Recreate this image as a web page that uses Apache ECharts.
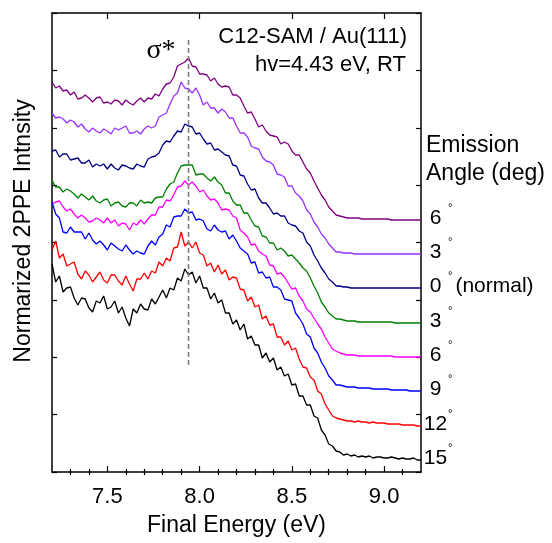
<!DOCTYPE html>
<html><head><meta charset="utf-8">
<script src="https://cdn.jsdelivr.net/npm/echarts@6/dist/echarts.min.js"></script>
<style>html,body{margin:0;padding:0;background:#fff}#c{width:552px;height:543px}</style>
</head><body><div id="c"></div>
<script>
// Final energy (eV) sample points
const energy = [7.20,7.22,7.24,7.26,7.28,7.30,7.32,7.34,7.36,7.38,
7.40,7.42,7.44,7.46,7.48,7.50,7.52,7.54,7.56,7.58,
7.60,7.62,7.64,7.66,7.68,7.70,7.72,7.74,7.76,7.78,
7.80,7.82,7.84,7.86,7.88,7.90,7.92,7.94,7.96,7.98,
8.00,8.02,8.04,8.06,8.08,8.10,8.12,8.14,8.16,8.18,
8.20,8.22,8.24,8.26,8.28,8.30,8.32,8.34,8.36,8.38,
8.40,8.42,8.44,8.46,8.48,8.50,8.52,8.54,8.56,8.58,
8.60,8.62,8.64,8.66,8.68,8.70,8.72,8.74,8.76,8.78,
8.80,8.82,8.84,8.86,8.88,8.90,8.92,8.94,8.96,8.98,
9.00,9.02,9.04,9.06,9.08,9.10,9.12,9.14,9.16,9.18,9.20];

// Normalized 2PPE intensity (offset traces, arbitrary units)
const angle6top = [390,384,386,381,382,377,380,373,374,377,
374,370,374,375,369,370,368,372,371,367,
372,369,367,371,374,370,374,373,378,376,
383,388,389,395,406,408,410,414,406,405,
398,398,397,391,394,388,385,386,385,377,
377,374,366,359,360,353,345,347,341,337,
336,335,328,330,328,321,317,317,310,303,
299,291,284,277,272,265,261,257,256,255,
254,254,254,254,253,253,253,253,253,253,
253,253,252,252,252,252,252,252,252,252,252];
const angle3top = [359,354,355,353,349,352,350,345,348,343,
340,344,341,339,343,341,338,344,342,344,
346,339,339,341,338,343,346,344,346,355,
357,359,368,376,379,390,384,383,379,384,
377,367,370,364,364,359,363,360,354,354,
346,339,339,335,326,324,323,315,311,310,
307,298,297,295,286,286,279,276,271,262,
258,250,245,238,234,228,224,220,220,219,
219,219,218,218,218,218,218,218,218,218,
218,218,218,218,218,218,218,218,218,218,218];
const angle0 = [321,322,315,318,318,312,313,314,309,309,
312,305,308,306,308,303,308,304,302,307,
306,304,303,308,306,305,313,315,316,319,
327,331,330,336,341,340,348,346,345,338,
339,333,328,329,322,323,320,317,316,307,
306,297,296,288,282,283,274,269,269,264,
258,259,256,256,249,247,246,241,239,230,
226,217,211,204,199,193,190,186,186,185,
185,184,184,184,184,184,184,184,184,184,
184,184,184,184,184,184,184,184,184,184,184];
const angle3 = [292,285,285,280,283,281,278,274,278,275,
272,276,271,269,272,273,266,269,270,266,
265,269,269,266,272,269,270,269,274,275,
275,283,288,290,299,306,307,307,307,297,
298,298,294,291,295,290,287,279,279,271,
267,267,259,259,252,246,245,236,235,229,
229,222,224,221,216,217,213,209,204,201,
194,186,179,170,165,159,156,153,153,152,
151,151,151,150,150,150,150,150,150,150,
150,150,150,149,149,149,149,149,149,149,149];
const angle6 = [268,270,271,265,261,263,258,254,257,254,
250,251,254,252,249,254,249,252,246,249,
248,242,249,247,252,248,253,257,257,265,
265,272,271,277,285,286,291,287,290,286,
280,282,276,272,273,269,262,263,262,256,
254,242,239,235,227,228,221,218,216,207,
206,198,199,195,189,183,184,176,171,163,
160,154,148,143,135,129,123,121,119,118,
117,117,117,116,116,116,116,116,116,116,
116,116,116,115,115,115,115,115,115,115,115];
const angle9 = [270,258,254,240,239,245,240,240,240,233,
239,232,228,231,227,222,229,226,223,221,
227,222,218,221,219,218,226,231,227,235,
238,247,245,255,256,256,263,259,260,252,
253,251,243,241,247,242,240,241,233,237,
231,224,221,218,209,210,199,200,194,195,
185,185,182,173,172,171,159,154,148,138,
135,124,119,110,104,96,92,87,87,86,
85,85,85,84,84,84,84,83,83,83,
83,83,82,82,82,82,82,81,81,81,81];
const angle12 = [222,231,214,218,206,208,210,198,193,201,
197,190,195,200,192,189,197,197,191,187,
196,188,181,193,193,199,193,201,199,210,
206,214,211,224,225,240,226,230,224,230,
219,217,206,209,200,207,198,202,192,195,
194,183,182,171,175,165,167,153,156,147,
148,135,135,127,131,122,124,113,105,104,
95,92,81,78,68,62,56,54,53,52,
51,51,50,51,50,50,49,50,49,49,
49,48,48,48,48,47,47,47,47,46,46];
const angle15 = [208,190,196,180,184,185,174,167,174,173,
164,160,171,169,176,163,165,171,159,165,
154,146,163,159,168,163,162,173,168,175,
182,174,184,182,194,191,203,197,200,189,
196,184,184,173,179,169,172,159,159,148,
152,142,148,133,136,127,127,114,119,110,
114,102,105,96,98,87,88,76,76,67,
67,56,54,42,37,28,26,21,20,17,
18,16,17,15,16,15,16,14,15,15,
14,14,15,14,13,14,13,13,14,12,12];

const traces = [angle6top, angle3top, angle0, angle3, angle6, angle9, angle12, angle15];
const angleLabels = ['6','3','0','3','6','9','12','15'];
const angleSuffix = ['','','(normal)','','','','',''];
const colors = ['#800080','#9933ff','#000080','#008000','#ff00ff','#0000ff','#ff0000','#000000'];

const majorTicks = [7.5, 8.0, 8.5, 9.0];
const minorTicks = [7.3,7.4,7.6,7.7,7.8,7.9,8.1,8.2,8.3,8.4,8.6,8.7,8.8,8.9,9.1];
const sigmaEnergy = 7.94;
const sigmaSpan = [107, 432];

const F = '"Liberation Sans", Arial, sans-serif';
const chart = echarts.init(document.getElementById('c'), null, {renderer:'canvas'});

const xBase = {type:'value', min:7.2, max:9.2, splitLine:{show:false}};
const axLine = {show:true, onZero:false, lineStyle:{color:'#000', width:1.5}};
const yBase = {type:'value', min:0, max:459, interval:57.375, splitLine:{show:false},
  axisLine:axLine, axisTick:{show:true, inside:true, length:5, lineStyle:{color:'#000', width:1.2}},
  axisLabel:{show:false}};

const series = traces.map((arr, k) => ({
  type:'line', xAxisIndex:0, yAxisIndex:0,
  data: energy.map((e,i)=>[e, arr[i]]),
  symbol:'none', showSymbol:false, silent:true,
  lineStyle:{color:colors[k], width:1.3}, itemStyle:{color:colors[k]},
  endLabel:{show:true, distance:4, offset:[0,-2],
    formatter: () => '{n|' + angleLabels[k] + '}{d|°}' + (angleSuffix[k] ? '{t|' + angleSuffix[k] + '}' : ''),
    rich:{
      n:{fontSize:21, width:21, align:'right', lineHeight:32, fontFamily:F, color:'#000'},
      d:{fontSize:11, verticalAlign:'top', padding:[0,3,0,2], fontFamily:F, color:'#000'},
      t:{fontSize:21, fontFamily:F, color:'#000'}
    }}
}));
series.push({
  type:'line', xAxisIndex:0, yAxisIndex:0, silent:true,
  data:[[sigmaEnergy, sigmaSpan[0]],[sigmaEnergy, sigmaSpan[1]]],
  symbol:'none', lineStyle:{color:'#7f7f7f', width:1.6, type:[5,3]}
});

chart.setOption({
  animation:false,
  backgroundColor:'#fff',
  grid:{left:52, right:131, top:13, bottom:71, containLabel:false, outerBoundsMode:'none'},
  xAxis:[
    Object.assign({}, xBase, {position:'bottom', axisLine:axLine,
      axisTick:{show:true, inside:true, length:6, customValues:majorTicks, lineStyle:{color:'#000', width:1.2}},
      axisLabel:{show:true, customValues:majorTicks, formatter:v=>v.toFixed(1), fontSize:22, color:'#000', margin:14, fontFamily:F},
      name:'Final Energy (eV)', nameLocation:'middle', nameGap:42,
      nameTextStyle:{fontSize:23, color:'#000', fontFamily:F}}),
    Object.assign({}, xBase, {position:'bottom', axisLine:{show:false},
      axisTick:{show:true, inside:true, length:3, customValues:minorTicks, lineStyle:{color:'#000', width:1.2}},
      axisLabel:{show:false}}),
    Object.assign({}, xBase, {position:'top', axisLine:axLine,
      axisTick:{show:true, inside:true, length:6, customValues:majorTicks, lineStyle:{color:'#000', width:1.2}},
      axisLabel:{show:false}}),
    Object.assign({}, xBase, {position:'top', axisLine:{show:false},
      axisTick:{show:true, inside:true, length:3, customValues:minorTicks, lineStyle:{color:'#000', width:1.2}},
      axisLabel:{show:false}})
  ],
  yAxis:[
    Object.assign({}, yBase, {position:'left'}),
    Object.assign({}, yBase, {position:'right'})
  ],
  graphic:[
    {type:'text', x:24, y:231, rotation:Math.PI/2, style:{text:'Normarized 2PPE Intnsity', font:'23px "Liberation Sans", Arial, sans-serif', fill:'#000', align:'center', verticalAlign:'middle'}},
    {type:'text', x:407, y:37, style:{text:'C12-SAM / Au(111)', font:'22px "Liberation Sans", Arial, sans-serif', fill:'#000', align:'right', verticalAlign:'middle'}},
    {type:'text', x:406, y:65, style:{text:'hv=4.43 eV, RT', font:'22px "Liberation Sans", Arial, sans-serif', fill:'#000', align:'right', verticalAlign:'middle'}},
    {type:'text', x:161, y:51, style:{text:'σ*', font:'28px "Liberation Serif", "Times New Roman", serif', fill:'#000', align:'center', verticalAlign:'middle'}},
    {type:'text', x:426, y:146, style:{text:'Emission', font:'23px "Liberation Sans", Arial, sans-serif', fill:'#000', align:'left', verticalAlign:'middle'}},
    {type:'text', x:426, y:174, style:{text:'Angle (deg)', font:'23px "Liberation Sans", Arial, sans-serif', fill:'#000', align:'left', verticalAlign:'middle'}}
  ],
  series: series
});
</script></body></html>
